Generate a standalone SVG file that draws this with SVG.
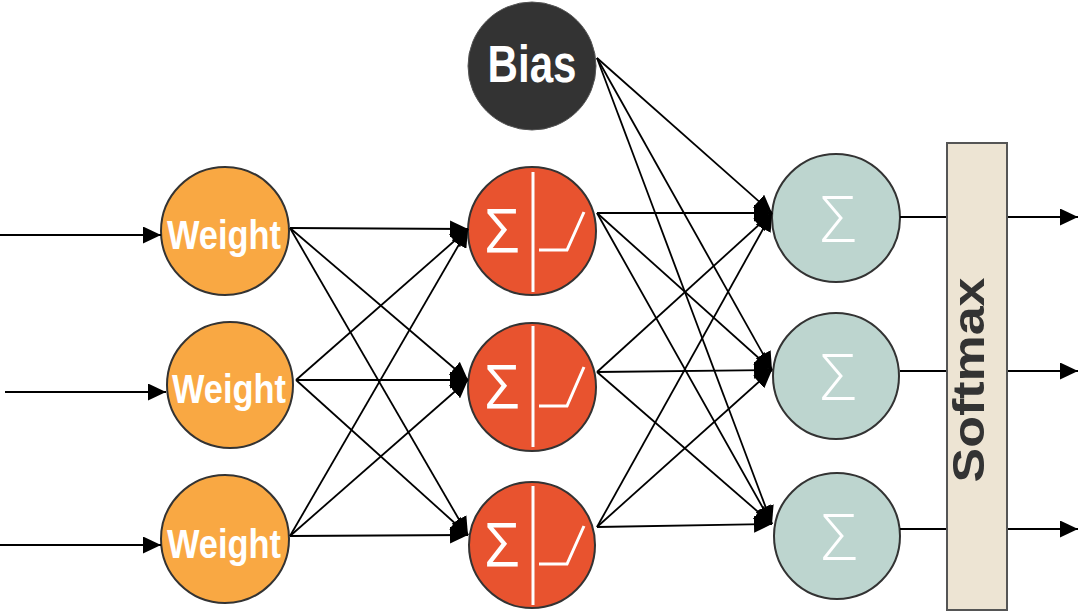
<svg xmlns="http://www.w3.org/2000/svg" width="1080" height="612" viewBox="0 0 1080 612">
<style>
.w{fill:#F9A843;stroke:#333;stroke-width:2}
.r{fill:#E8532F;stroke:#333;stroke-width:2}
.t{fill:#BDD5CF;stroke:#333;stroke-width:2}
.b{fill:#333333;stroke:#555;stroke-width:1}
.lbl{font-family:"Liberation Sans",Arial,sans-serif;font-weight:bold;fill:#fff;text-anchor:middle}
.sig{font-family:"Open Sans","DejaVu Sans",sans-serif;font-weight:400;fill:#fff;text-anchor:middle}
.sigt{font-family:"Open Sans","DejaVu Sans",sans-serif;font-weight:300;fill:#fff;text-anchor:middle}
.wl{fill:none;stroke:#fff;stroke-width:3}
.c{stroke:#000;stroke-width:1.8;fill:none;marker-end:url(#ah)}
.o{stroke:#000;stroke-width:2;fill:none;marker-end:url(#ah)}
</style>
<defs>
<marker id="ah" markerUnits="userSpaceOnUse" markerWidth="18" markerHeight="17" refX="18" refY="8.5" orient="auto">
<path d="M0,0 L18,8.5 L0,17 z" fill="#000"/>
</marker>
</defs>
<rect width="1080" height="612" fill="#fff"/>
<g id="weight1"><circle class="w" cx="225" cy="231" r="64"/><text class="lbl" x="224" y="249" font-size="40" textLength="114" lengthAdjust="spacingAndGlyphs">Weight</text></g>
<g id="weight2"><circle class="w" cx="230" cy="385" r="63"/><text class="lbl" x="229" y="403" font-size="40" textLength="114" lengthAdjust="spacingAndGlyphs">Weight</text></g>
<g id="weight3"><circle class="w" cx="225" cy="539" r="64"/><text class="lbl" x="224" y="558" font-size="40" textLength="114" lengthAdjust="spacingAndGlyphs">Weight</text></g>
<g id="bias"><circle class="b" cx="532" cy="66" r="64"/><text class="lbl" x="532" y="82" font-size="51" textLength="89" lengthAdjust="spacingAndGlyphs">Bias</text></g>
<g id="hidden1"><circle class="r" cx="532" cy="231" r="64"/><text class="sig" x="502" y="252" font-size="60">Σ</text><line class="wl" x1="533" y1="172" x2="533" y2="292"/><polyline class="wl" points="539,250 567,250 584,212"/></g>
<g id="hidden2"><circle class="r" cx="532" cy="387" r="64"/><text class="sig" x="502" y="408" font-size="60">Σ</text><line class="wl" x1="533" y1="326" x2="533" y2="447"/><polyline class="wl" points="539,406 567,406 584,367"/></g>
<g id="hidden3"><circle class="r" cx="532" cy="545" r="63"/><text class="sig" x="502" y="566" font-size="60">Σ</text><line class="wl" x1="533" y1="486" x2="533" y2="605"/><polyline class="wl" points="539,564 567,564 584,526"/></g>
<g id="out1"><circle class="t" cx="836" cy="218" r="64"/><text class="sigt" x="838" y="242" font-size="64">Σ</text></g>
<g id="out2"><circle class="t" cx="836" cy="376" r="63"/><text class="sigt" x="838" y="400" font-size="64">Σ</text></g>
<g id="out3"><circle class="t" cx="837" cy="536" r="63"/><text class="sigt" x="839" y="560" font-size="64">Σ</text></g>
<g id="connectors">
<line class="o" x1="0" y1="235" x2="161" y2="235"/>
<line class="o" x1="5" y1="392" x2="166" y2="392"/>
<line class="o" x1="0" y1="545" x2="161" y2="545"/>
<line class="c" x1="290" y1="228" x2="468" y2="229"/>
<line class="c" x1="290" y1="228" x2="468" y2="380"/>
<line class="c" x1="290" y1="228" x2="468" y2="535"/>
<line class="c" x1="296" y1="380" x2="468" y2="229"/>
<line class="c" x1="296" y1="380" x2="468" y2="380"/>
<line class="c" x1="296" y1="380" x2="468" y2="535"/>
<line class="c" x1="290" y1="536" x2="468" y2="229"/>
<line class="c" x1="290" y1="536" x2="468" y2="380"/>
<line class="c" x1="290" y1="536" x2="468" y2="535"/>
<line class="c" x1="597" y1="213" x2="772" y2="213"/>
<line class="c" x1="597" y1="213" x2="772" y2="370"/>
<line class="c" x1="597" y1="213" x2="772" y2="524"/>
<line class="c" x1="597" y1="372" x2="772" y2="213"/>
<line class="c" x1="597" y1="372" x2="772" y2="370"/>
<line class="c" x1="597" y1="372" x2="772" y2="524"/>
<line class="c" x1="597" y1="527" x2="772" y2="213"/>
<line class="c" x1="597" y1="527" x2="772" y2="370"/>
<line class="c" x1="597" y1="527" x2="772" y2="524"/>
<line class="c" x1="597" y1="58" x2="772" y2="213"/>
<line class="c" x1="597" y1="58" x2="772" y2="370"/>
<line class="c" x1="597" y1="58" x2="772" y2="524"/>
<line class="o" x1="900" y1="217" x2="1078" y2="217"/>
<line class="o" x1="900" y1="371" x2="1078" y2="371"/>
<line class="o" x1="900" y1="529" x2="1078" y2="529"/>
</g>
<g id="softmax"><rect x="947" y="143" width="60" height="467" fill="#EDE4D3" stroke="#555" stroke-width="2"/><text x="984" y="380" transform="rotate(-90 984 380)" font-family="Liberation Sans, Arial, sans-serif" font-weight="bold" font-size="45" fill="#333" text-anchor="middle" textLength="205" lengthAdjust="spacingAndGlyphs">Softmax</text></g>
</svg>
